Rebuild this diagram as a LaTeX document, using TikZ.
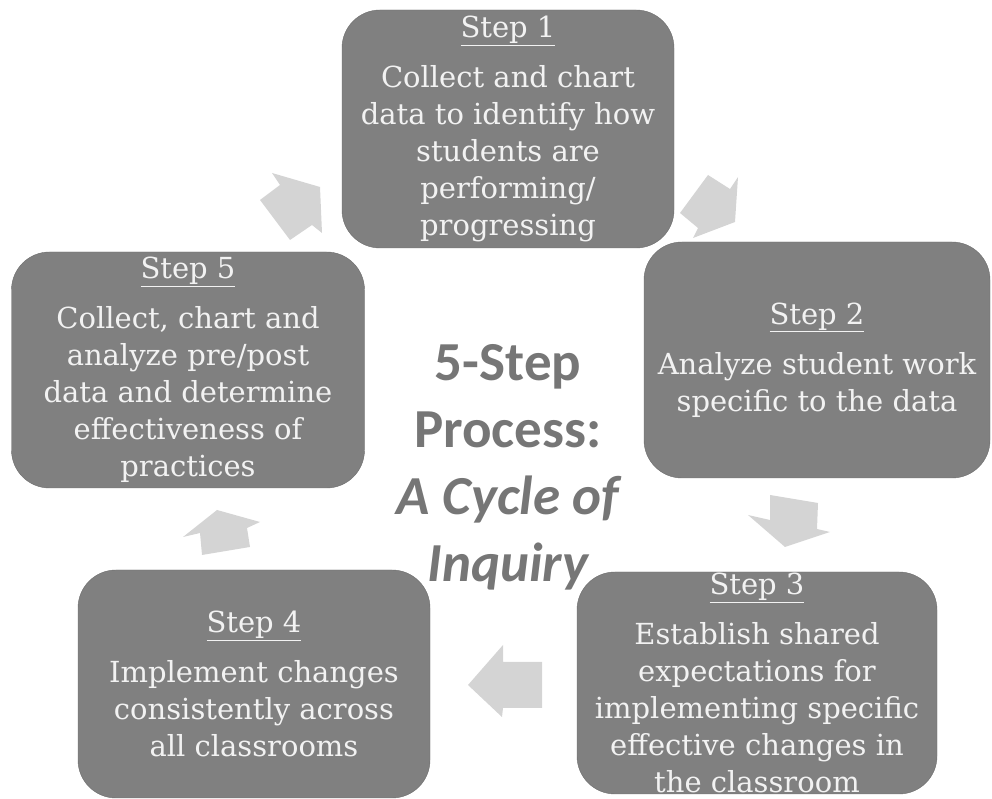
\documentclass[tikz,border=0pt]{standalone}
\usepackage{fontspec}
\setmainfont{DejaVu Serif}
\newfontfamily\calibri{Carlito}
\usepackage{tikz}
\usetikzlibrary{positioning}

\definecolor{boxgray}{HTML}{808080}
\definecolor{arrowgray}{HTML}{D4D4D4}
\definecolor{titlegray}{HTML}{767676}
\definecolor{boxtext}{HTML}{F2F2F2}

\newcommand{\stephead}[1]{\underline{Step #1}\\[13pt]}

\tikzset{
  stepbox/.style={draw=boxgray!85!black, fill=boxgray, rounded corners=38pt,
    text=boxtext, align=center, inner sep=0pt,
    font=\fontsize{29}{37}\selectfont},
  cyclearrow/.style={fill=arrowgray, draw=none},
}

\begin{document}
\begin{tikzpicture}[x=1pt, y=1pt]
        \useasboundingbox (0,0) rectangle (992,799);

        % Step boxes, clockwise from the top
        \node[stepbox, minimum width=332pt, minimum height=238pt] (s1) at (508,670)
            {\stephead{1}Collect and chart\\data to identify how\\students are\\performing/\\progressing};
        \node[stepbox, minimum width=346pt, minimum height=236pt] (s2) at (817,439)
            {\stephead{2}Analyze student work\\specific to the data};
        \node[stepbox, minimum width=360pt, minimum height=222pt] (s3) at (757,116)
            {\stephead{3}Establish shared\\expectations for\\implementing specific\\effective changes in\\the classroom};
        \node[stepbox, minimum width=352pt, minimum height=228pt] (s4) at (254,115)
            {\stephead{4}Implement changes\\consistently across\\all classrooms};
        \node[stepbox, minimum width=353pt, minimum height=236pt] (s5) at (188,429)
            {\stephead{5}Collect, chart and\\analyze pre/post\\data and determine\\effectiveness of\\practices};

        % Centre title
        \node[text=titlegray, align=center, font=\calibri\bfseries\fontsize{55}{67}\selectfont] (title) at (508,332)
            {5-Step\\Process:\\\itshape A Cycle of\\\itshape Inquiry};

        % Block arrows between the steps
        \fill[cyclearrow] (320,612) -- (322,566) -- (312,574) -- (290,559) -- (260,599) -- (280,614) -- (272,626) -- cycle; % 5 -> 1
        \fill[cyclearrow] (708,624) -- (730,610) -- (738,622) -- (735,577) -- (693,561) -- (698,571) -- (680,586) -- cycle; % 1 -> 2
        \fill[cyclearrow] (770,304) -- (818,296) -- (817,270) -- (830,267) -- (785,252) -- (748,284) -- (770,279) -- cycle; % 2 -> 3
        \fill[cyclearrow] (468,114) -- (503,154) -- (503,137) -- (542,137) -- (542,91) -- (503,91) -- (502,82) -- cycle; % 3 -> 4
        \fill[cyclearrow] (217,289) -- (260,277) -- (247,271) -- (250,252) -- (202,244) -- (200,266) -- (183,262) -- cycle; % 4 -> 5
    \end{tikzpicture}
\end{document}
